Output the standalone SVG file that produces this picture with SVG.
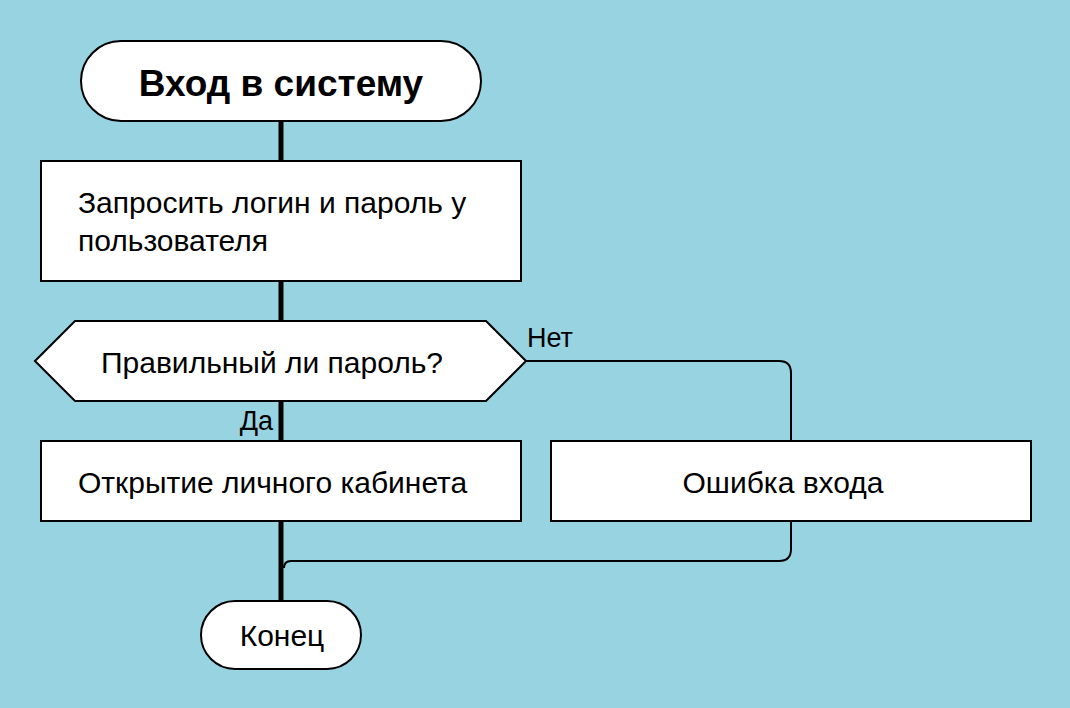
<svg xmlns="http://www.w3.org/2000/svg" width="1070" height="708" viewBox="0 0 1070 708">
<style>
.shape{fill:#ffffff;stroke:#000000;stroke-width:2}
.t{font-family:"Liberation Sans",Arial,sans-serif;font-size:30px;fill:#000000}
.title{font-family:"Liberation Sans",Arial,sans-serif;font-size:37px;font-weight:bold;fill:#000000}
.lbl{font-family:"Liberation Sans",Arial,sans-serif;font-size:27px;fill:#000000}
.thick{stroke:#000000;stroke-width:5;fill:none}
.thin{stroke:#000000;stroke-width:2;fill:none}
</style>
<rect x="0" y="0" width="1070" height="708" fill="#98d3e1"/>
<g id="connectors">
<path class="thick" d="M281,121 V161"/>
<path class="thick" d="M281,281 V321"/>
<path class="thick" d="M281,401 V441"/>
<path class="thick" d="M281,521 V601"/>
<path class="thin" d="M526,361 H779 Q791,361 791,373 V441"/>
<path class="thin" d="M791,521 V549 Q791,561 779,561 H291 Q284,561 284,568"/>
<text class="lbl" x="527" y="347">Нет</text>
<text class="lbl" x="273" y="430" text-anchor="end">Да</text>
</g>
<g id="start">
<rect class="shape" x="81" y="41" width="400" height="80" rx="40" ry="40"/>
<text class="title" x="281" y="96" text-anchor="middle">Вход в систему</text>
</g>
<g id="request">
<rect class="shape" x="41" y="161" width="480" height="120"/>
<text class="t" x="78" y="213">Запросить логин и пароль у</text>
<text class="t" x="78" y="251">пользователя</text>
</g>
<g id="decision">
<polygon class="shape" points="35,361 75,321 486,321 526,361 486,401 75,401"/>
<text class="t" x="101" y="373">Правильный ли пароль?</text>
</g>
<g id="cabinet">
<rect class="shape" x="41" y="441" width="480" height="80"/>
<text class="t" x="78" y="493">Открытие личного кабинета</text>
</g>
<g id="error">
<rect class="shape" x="551" y="441" width="480" height="80"/>
<text class="t" x="783" y="493" text-anchor="middle">Ошибка входа</text>
</g>
<g id="end">
<rect class="shape" x="201" y="601" width="160" height="68" rx="34" ry="34"/>
<text class="t" x="282" y="646" text-anchor="middle">Конец</text>
</g>
</svg>
